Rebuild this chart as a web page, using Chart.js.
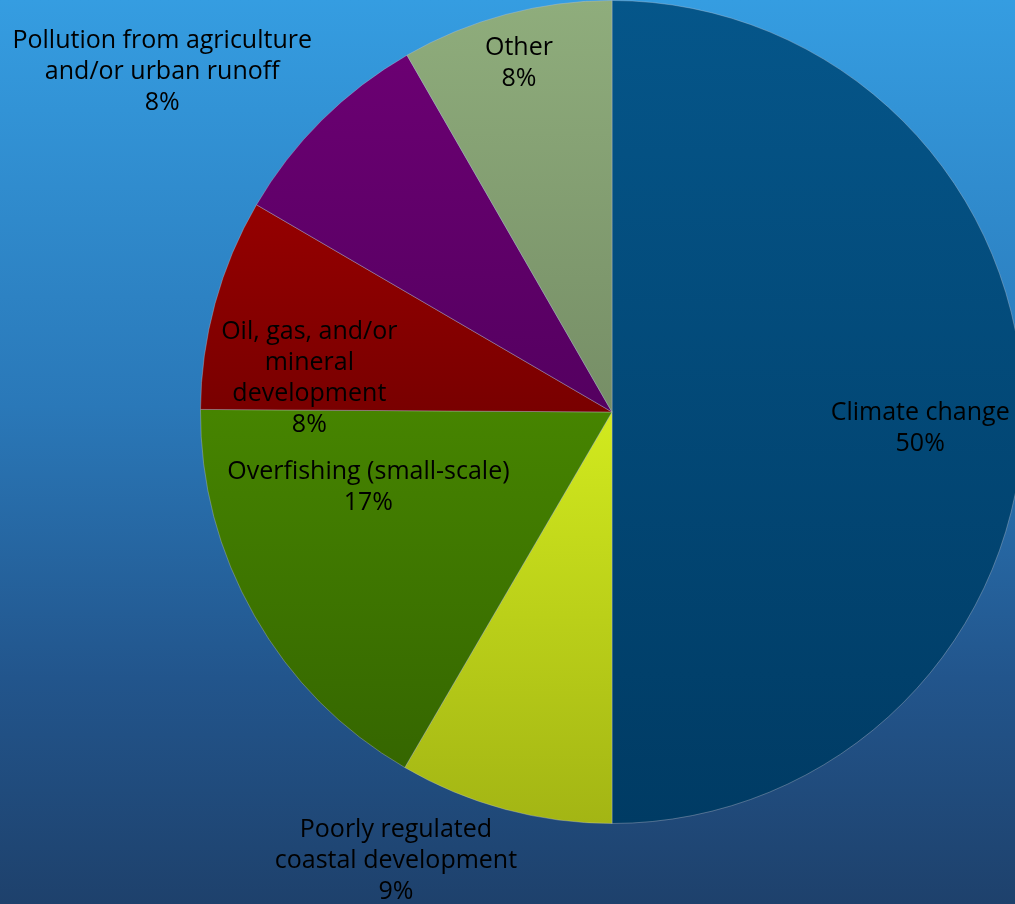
<!DOCTYPE html>
<html>
<head>
<meta charset="utf-8">
<script src="https://cdn.jsdelivr.net/npm/chart.js@4"></script>
<style>
  html, body {
    margin: 0;
    padding: 0;
    width: 1015px;
    height: 904px;
    overflow: hidden;
    background: linear-gradient(to bottom, #359de1 0%, #2a78b8 45%, #22558c 75%, #1e416c 100%);
  }
  #wrap { position: absolute; left: 0; top: 0; width: 1224px; height: 904px; }
</style>
</head>
<body>
<div id="wrap"><canvas id="threatChart" width="1224" height="904"></canvas></div>
<script>
const categories = ['Climate change', 'Poorly regulated\ncoastal development', 'Overfishing (small-scale)',
    'Oil, gas, and/or\nmineral\ndevelopment', 'Pollution from agriculture\nand/or urban runoff', 'Other'];
const shares = [50, 8.4, 16.7, 8.3, 8.3, 8.3];
const percentLabels = ['50%', '9%', '17%', '8%', '8%', '8%'];

// Gradient kolorów wycinków: [pozycja, kolor] względem wysokości obszaru wykresu
const sliceStops = [
    [[0, '#05568a'], [1, '#003b64']],
    [[0.5, '#d2ea1e'], [1, '#a3b514']],
    [[0.5, '#468400'], [0.93, '#356600']],
    [[0.25, '#950000'], [0.5, '#790000']],
    [[0.07, '#6b0072'], [0.5, '#540060']],
    [[0, '#8fad7c'], [0.5, '#768e66']]
];

// Położenie etykiet: [przesunięcie kąta w stopniach, mnożnik promienia]
const labelPlacement = [[3, 0.75], [10.6, 1.21], [12.4, 0.62], [-9, 0.74], [-8.1, 1.37], [0, 0.877]];

const sliceFill = (context) => {
    const chart = context.chart;
    const area = chart.chartArea;
    if (!area) return sliceStops[context.dataIndex][0][1];
    const g = chart.ctx.createLinearGradient(0, area.top, 0, area.bottom);
    sliceStops[context.dataIndex].forEach(s => g.addColorStop(s[0], s[1]));
    return g;
};

// Plugin do rysowania etykiet danych
const sliceLabels = {
    id: 'sliceLabels',
    afterDatasetsDraw(chart) {
        const ctx = chart.ctx;
        const meta = chart.getDatasetMeta(0);
        ctx.save();
        ctx.font = '25px "Open Sans", Lato, sans-serif';
        ctx.fillStyle = '#000000';
        ctx.textAlign = 'center';
        ctx.textBaseline = 'middle';
        meta.data.forEach((arc, i) => {
            const mid = (arc.startAngle + arc.endAngle) / 2 + labelPlacement[i][0] * Math.PI / 180;
            const r = arc.outerRadius * labelPlacement[i][1];
            const x = arc.x + Math.cos(mid) * r;
            const y = arc.y + Math.sin(mid) * r;
            const lines = categories[i].split('\n').concat([percentLabels[i]]);
            const lh = 31;
            const y0 = y - (lines.length - 1) * lh / 2;
            lines.forEach((t, k) => ctx.fillText(t, x, y0 + k * lh));
        });
        ctx.restore();
    }
};

const threatChart = new Chart(document.getElementById('threatChart').getContext('2d'), {
    type: 'pie',
    data: {
        labels: categories,
        datasets: [{
            data: shares,
            backgroundColor: sliceFill,
            borderColor: 'rgba(200, 200, 210, 0.35)',
            borderWidth: 1
        }]
    },
    options: {
        responsive: false,
        animation: false,
        layout: { padding: { top: 0, bottom: 80, left: 0, right: 0 } },
        plugins: {
            legend: { display: false },
            tooltip: { enabled: false }
        }
    },
    plugins: [sliceLabels]
});
</script>
</body>
</html>
